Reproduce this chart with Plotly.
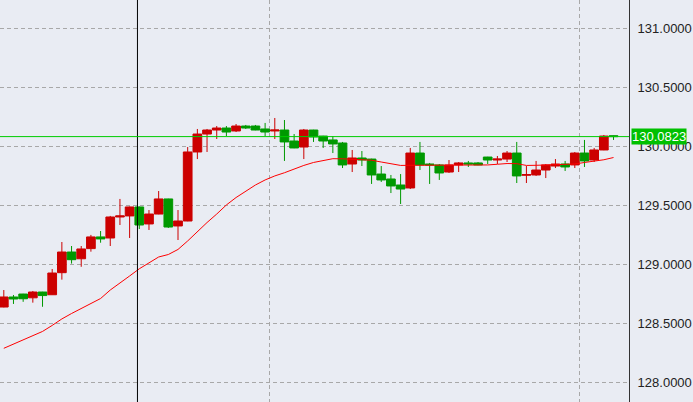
import plotly.graph_objects as go

# ---- data ----
idx = list(range(64))
opens = [128.638, 128.723, 128.748, 128.716, 128.765, 128.742, 128.929, 129.104, 129.047, 129.133,
         129.232, 129.223, 129.401, 129.410, 129.486, 129.342, 129.426, 129.554, 129.325, 129.367,
         129.952, 130.104, 130.138, 130.155, 130.130, 130.172, 130.172, 130.147, 130.130, 130.138,
         130.045, 129.994, 130.138, 130.087, 130.054, 130.028, 129.850, 129.901, 129.892, 129.765,
         129.723, 129.672, 129.647, 129.943, 129.850, 129.842, 129.782, 129.842, 129.859, 129.859,
         129.909, 129.884, 129.892, 129.943, 129.755, 129.757, 129.799, 129.833, 129.850, 129.842,
         129.943, 129.884, 129.969, 130.090]
highs = [128.782, 128.740, 128.750, 128.774, 128.767, 128.960, 129.189, 129.155, 129.155, 129.249,
         129.282, 129.410, 129.554, 129.490, 129.490, 129.460, 129.621, 129.556, 129.460, 129.994,
         130.147, 130.147, 130.172, 130.172, 130.189, 130.181, 130.181, 130.198, 130.240, 130.223,
         130.104, 130.147, 130.140, 130.089, 130.087, 130.037, 129.969, 129.960, 129.895, 129.833,
         129.757, 129.765, 129.986, 130.037, 129.859, 129.850, 129.884, 129.867, 129.876, 129.867,
         129.911, 129.918, 129.960, 130.037, 129.833, 129.876, 129.850, 129.892, 129.876, 129.952,
         130.054, 129.986, 130.096, 130.092]
lows = [128.635, 128.664, 128.682, 128.675, 128.640, 128.740, 128.870, 129.006, 128.979, 129.107,
        129.183, 129.155, 129.333, 129.223, 129.299, 129.291, 129.424, 129.308, 129.206, 129.365,
        129.892, 129.952, 130.062, 130.087, 130.121, 130.147, 130.136, 130.087, 130.062, 129.876,
        129.984, 129.892, 130.037, 129.986, 129.943, 129.816, 129.782, 129.833, 129.681, 129.698,
        129.604, 129.511, 129.638, 129.799, 129.681, 129.715, 129.774, 129.782, 129.825, 129.840,
        129.850, 129.850, 129.867, 129.689, 129.689, 129.749, 129.731, 129.816, 129.791, 129.816,
        129.825, 129.867, 129.967, 130.054]
closes = [128.723, 128.706, 128.708, 128.765, 128.735, 128.926, 129.104, 129.039, 129.130, 129.232,
          129.215, 129.401, 129.410, 129.486, 129.333, 129.426, 129.554, 129.316, 129.367, 129.952,
          130.104, 130.138, 130.155, 130.121, 130.172, 130.155, 130.138, 130.121, 130.138, 130.037,
          129.986, 130.138, 130.079, 130.045, 130.020, 129.842, 129.901, 129.884, 129.757, 129.715,
          129.664, 129.638, 129.943, 129.842, 129.842, 129.774, 129.842, 129.859, 129.850, 129.842,
          129.884, 129.892, 129.943, 129.749, 129.760, 129.799, 129.842, 129.850, 129.825, 129.943,
          129.876, 129.969, 130.087, 130.0823]
ma = [128.288, 128.325, 128.359, 128.397, 128.431, 128.482, 128.537, 128.583, 128.627, 128.672,
      128.710, 128.782, 128.839, 128.901, 128.962, 129.011, 129.062, 129.083, 129.126, 129.198,
      129.278, 129.354, 129.426, 129.503, 129.566, 129.621, 129.672, 129.715, 129.749, 129.776,
      129.808, 129.838, 129.863, 129.882, 129.895, 129.894, 129.890, 129.888, 129.882, 129.867,
      129.854, 129.838, 129.839, 129.839, 129.839, 129.839, 129.839, 129.839, 129.839, 129.840,
      129.842, 129.848, 129.854, 129.853, 129.838, 129.839, 129.842, 129.844, 129.846, 129.850,
      129.863, 129.873, 129.886, 129.905]
last_price = 130.0823
price_ticks = [128.0, 128.5, 129.0, 129.5, 130.0, 130.5, 131.0]
tick_labels = ["128.0000", "128.5000", "129.0000", "129.5000", "130.0000", "130.5000", "131.0000"]
x_grid = [27.5, 59.5]
cursor_x = 13.81

BG = "#e9ecf3"
RED = "#cc0000"
GREEN = "#009900"
LINE_GREEN = "#00cc00"

fig = go.Figure()
fig.add_trace(go.Candlestick(
    x=idx, open=opens, high=highs, low=lows, close=closes,
    increasing=dict(fillcolor=RED, line=dict(color=RED, width=1)),
    decreasing=dict(fillcolor=GREEN, line=dict(color=GREEN, width=1)),
    whiskerwidth=0, showlegend=False, hoverinfo="skip"))
fig.add_trace(go.Scatter(x=idx, y=ma, mode="lines",
                         line=dict(color="#ff0000", width=1), showlegend=False, hoverinfo="skip"))

fig.add_shape(type="line", xref="x", yref="paper", x0=cursor_x, x1=cursor_x, y0=0, y1=1,
              line=dict(color="#000000", width=1))
fig.add_shape(type="line", xref="paper", yref="y", x0=0, x1=1, y0=last_price, y1=last_price,
              line=dict(color=LINE_GREEN, width=1))
fig.add_annotation(xref="paper", yref="y", x=1, y=last_price, xanchor="left", yanchor="middle",
                   xshift=2, text=f"{last_price:.4f}", showarrow=False,
                   font=dict(family="Liberation Sans, Arial", size=13, color="#ffffff"),
                   bgcolor="#00c000", borderpad=0)

fig.update_layout(
    width=693, height=402,
    margin=dict(l=0, r=64, t=0, b=0, autoexpand=False),
    paper_bgcolor=BG, plot_bgcolor=BG,
    boxgap=0.1, boxgroupgap=0,
    xaxis=dict(range=[-0.393, 64.60], rangeslider=dict(visible=False),
               tickvals=x_grid, showticklabels=False, ticks="",
               showgrid=True, gridcolor="#a8a8a8", griddash="4px,3px", gridwidth=1,
               zeroline=False, showline=False),
    yaxis=dict(range=[127.833, 131.240], side="right",
               tickvals=price_ticks, ticktext=tick_labels, ticks="",
               showgrid=True, gridcolor="#a8a8a8", griddash="4px,3px", gridwidth=1,
               zeroline=False, showline=True, linecolor="#333333", linewidth=1,
               ticklabelstandoff=5, automargin=False,
               tickfont=dict(family="Liberation Sans, Arial", size=13, color="#222222")),
    font=dict(family="Liberation Sans, Arial"),
)

fig.write_html("out.html", config={"displayModeBar": False},
               post_script="document.body.style.margin='0';document.body.style.background='" + BG + "';")
